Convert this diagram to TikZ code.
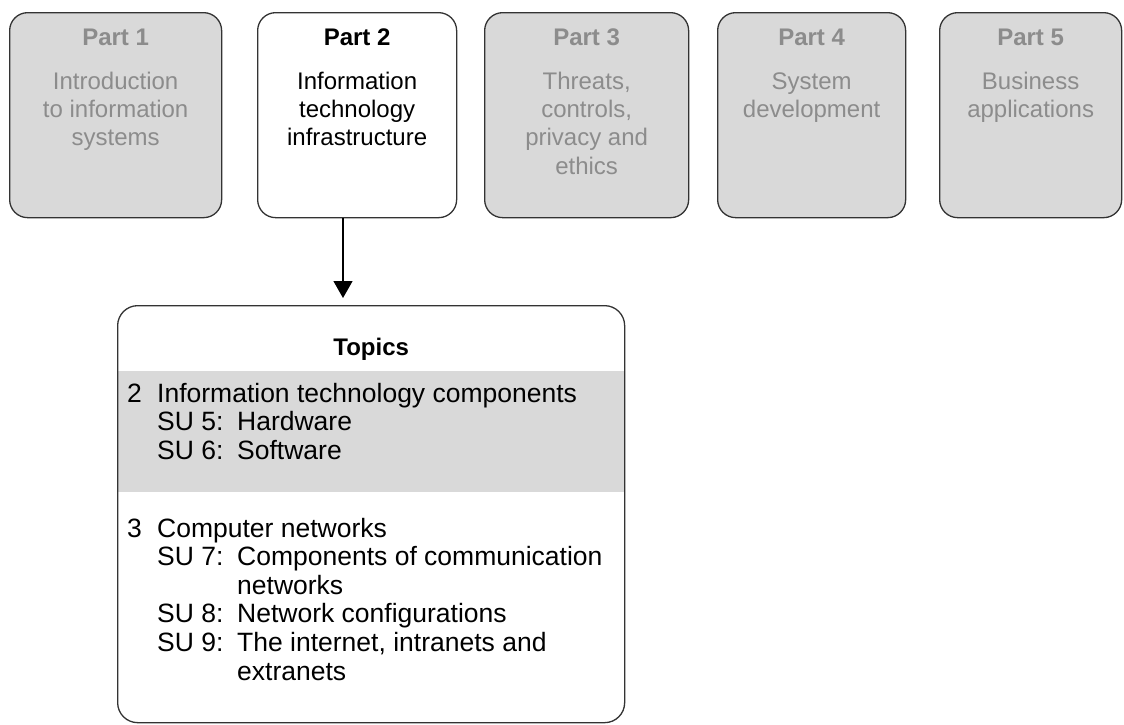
\documentclass[tikz,border=0pt]{standalone}
\usepackage{fontspec}
\setmainfont{Liberation Sans}
\usetikzlibrary{arrows.meta}
\definecolor{boxgray}{HTML}{D9D9D9}
\definecolor{fadetext}{HTML}{8C8C8C}
\definecolor{edgecol}{HTML}{333333}
\tikzset{
  partbox/.style={draw=edgecol, line width=1.3pt, rounded corners=18pt, anchor=north west, inner sep=0pt},
  greybox/.style={partbox, fill=boxgray},
  whitebox/.style={partbox, fill=white},
  titletext/.style={anchor=base, inner sep=0pt, font=\fontsize{24}{28}\selectfont\bfseries},
  bodytext/.style={anchor=base, inner sep=0pt, font=\fontsize{24}{28.4}\selectfont},
  faded/.style={text=fadetext},
  listtext/.style={anchor=base west, inner sep=0pt, font=\fontsize{26.5}{28.6}\selectfont},
  arrowline/.style={line width=1.3pt, draw=black, -{Triangle[width=19pt,length=17pt]}},
}
\newcommand{\cbody}[1]{\parbox[t]{200pt}{\centering #1}}
\newcommand{\numitem}[2]{\makebox[30pt][l]{#1}#2}
\newcommand{\suitem}[2]{\hspace*{30pt}\makebox[80pt][l]{#1}#2}
\newcommand{\sucont}[1]{\hspace*{110pt}#1}
\begin{document}
\begin{tikzpicture}[x=1pt,y=-1pt]
\useasboundingbox (0,0) rectangle (1124,724);
% top part boxes
\node[greybox, minimum width=212pt, minimum height=205pt] (p1) at (9,12) {};
\node[whitebox, minimum width=199pt, minimum height=205pt] (p2) at (257,12) {};
\node[greybox, minimum width=204pt, minimum height=205pt] (p3) at (484,12) {};
\node[greybox, minimum width=188pt, minimum height=205pt] (p4) at (717,12) {};
\node[greybox, minimum width=182pt, minimum height=205pt] (p5) at (939,12) {};
% titles
\node[titletext, faded] (p1t) at (p1.north |- 0,45) {Part 1};
\node[titletext] (p2t) at (p2.north |- 0,45) {Part 2};
\node[titletext, faded] (p3t) at (p3.north |- 0,45) {Part 3};
\node[titletext, faded] (p4t) at (p4.north |- 0,45) {Part 4};
\node[titletext, faded] (p5t) at (p5.north |- 0,45) {Part 5};
% bodies
\node[bodytext, faded] (p1b) at (p1.north |- 0,89) {\cbody{Introduction\\to information\\systems}};
\node[bodytext] (p2b) at (p2.north |- 0,89) {\cbody{Information\\technology\\infrastructure}};
\node[bodytext, faded] (p3b) at (p3.north |- 0,89) {\cbody{Threats,\\controls,\\privacy and\\ethics}};
\node[bodytext, faded] (p4b) at (p4.north |- 0,89) {\cbody{System\\development}};
\node[bodytext, faded] (p5b) at (p5.north |- 0,89) {\cbody{Business\\applications}};
% topics box
\fill[boxgray] (117,371) rectangle (624,492);
\node[partbox, rounded corners=20pt, minimum width=507pt, minimum height=417pt] (topics) at (117,305) {};
\node[titletext] (tt) at (topics.north |- 0,355) {Topics};
\node[listtext] (g2) at (127,402) {\parbox[t]{490pt}{\raggedright
  \numitem{2}{Information technology components}\\
  \suitem{SU 5:}{Hardware}\\
  \suitem{SU 6:}{Software}}};
\node[listtext] (g3) at (127,537) {\parbox[t]{490pt}{\raggedright
  \numitem{3}{Computer networks}\\
  \suitem{SU 7:}{Components of communication}\\
  \sucont{networks}\\
  \suitem{SU 8:}{Network configurations}\\
  \suitem{SU 9:}{The internet, intranets and}\\
  \sucont{extranets}}};
% arrow
\coordinate (ax) at (343,0);
\draw[arrowline, shorten >=7pt] (p2.south -| ax) -- (topics.north -| ax);
\end{tikzpicture}
\end{document}
